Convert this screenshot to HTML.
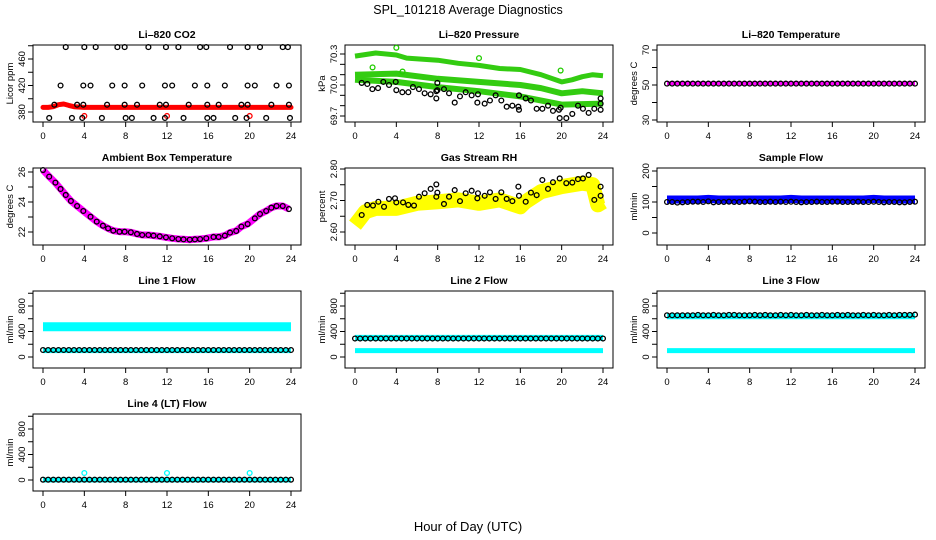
<!DOCTYPE html>
<html><head><meta charset="utf-8"><style>
html,body{margin:0;padding:0;background:#fff}
svg{display:block;font-family:"Liberation Sans",sans-serif}
</style></head><body>
<svg id="chart" width="936" height="540" viewBox="0 0 936 540" xmlns="http://www.w3.org/2000/svg">
<text x="468" y="14" text-anchor="middle" font-size="12.5">SPL_101218  Average Diagnostics</text>
<text x="468" y="531" text-anchor="middle" font-size="13">Hour of Day (UTC)</text>
</svg>
<script>
// ---------- data ----------
const xTickLabels = ["0","4","8","12","16","20","24"];
const halfHours = [0,0.5,1,1.5,2,2.5,3,3.5,4,4.5,5,5.5,6,6.5,7,7.5,8,8.5,9,9.5,10,10.5,11,11.5,12,12.5,13,13.5,14,14.5,15,15.5,16,16.5,17,17.5,18,18.5,19,19.5,20,20.5,21,21.5,22,22.5,23,23.5,24];

// CO2
const co2BlackHours = [2.2,4.0,5.1,7.2,7.9,10.2,11.9,13.1,15.2,15.8,18.1,19.8,21.0,23.2,23.7, 1.7,3.9,4.6,6.7,7.9,9.6,11.8,12.5,14.7,15.9,17.6,19.8,20.5,22.6,23.8, 1.1,3.3,3.9,6.2,7.9,9.1,11.3,11.9,14.1,15.9,17.0,19.2,19.8,22.1,23.8, 0.6,2.8,3.8,5.7,8.0,8.6,10.7,11.8,13.6,15.9,16.5,18.6,19.7,21.6,23.9];
const co2BlackVals = [478,478,478,478,478,478,478,478,478,478,478,478,478,478,478, 420,420,420,420,420,420,420,420,420,420,420,420,420,420,420, 391,391,391,391,391,391,391,391,391,391,391,391,391,391,391, 371,371,371,371,371,371,371,371,371,371,371,371,371,371,371];
const co2RedHours = [0,0.5,1,1.5,2,2.5,3,4,6,8,10,12,14,16,18,20,22,24];
const co2RedVals = [387,387,388,391,392,390,388,387,387,387,387,387,387,387,387,387,387,387];
const co2RedOutHours = [4,12,20];
const co2RedOutVals = [374,374,374];

// Pressure
const presUpperHours = [0,2,4,5,8,10,12,14,16,18,20,21,22,23,24];
const presUpperVals = [70.28,70.31,70.29,70.26,70.24,70.21,70.19,70.16,70.15,70.10,70.03,70.05,70.08,70.10,70.09];
const presMidHours = [0,4,8,12,16,18,20,22,24];
const presMidVals = [70.10,70.11,70.06,70.03,70.00,69.97,69.92,69.94,69.92];
const presLowHours = [0,4,8,12,16,20,24];
const presLowVals = [70.05,70.03,69.98,69.94,69.89,69.81,69.82];
const presOutHours = [4.0,12.0,19.9,1.7,4.6];
const presOutVals = [70.36,70.26,70.14,70.17,70.13];
const presBlackHours = [0.65,1.19,1.68,2.23,2.74,3.29,3.94,4.0,4.58,5.16,5.61,6.19,6.74,7.32,7.87,7.87,7.97,7.97,8.61,9.1,9.65,10.16,10.71,11.29,11.9,11.84,12.55,13.06,13.61,14.16,14.68,15.23,15.81,15.87,15.87,16.52,17.03,17.58,18.13,18.68,19.16,19.74,19.81,19.9,20.45,21.03,21.58,22.06,22.61,23.16,23.77,23.77,23.77];
const presBlackVals = [70.02,70.01,69.96,69.97,70.03,70.00,70.03,69.95,69.93,69.93,69.98,69.96,69.92,69.91,69.94,69.87,70.02,69.95,69.96,69.92,69.83,69.89,69.93,69.90,69.91,69.83,69.82,69.85,69.90,69.85,69.79,69.80,69.79,69.76,69.90,69.87,69.85,69.77,69.77,69.80,69.75,69.76,69.68,69.78,69.68,69.72,69.80,69.77,69.73,69.77,69.76,69.87,69.82];

// Li-820 temperature
const liTempMagenta = [51,51,51,51,51,51,51,51,51,51,51,51,51,51,51,51,51,51,51,51,51,51,51,51,51];
const liTempBlack = [50.8,50.8,50.8,50.8,50.8,50.8,50.8,50.8,50.8,50.8,50.8,50.8,50.8,50.8,50.8,50.8,50.8,50.8,50.8,50.8,50.8,50.8,50.8,50.8,50.8,50.8,50.8,50.8,50.8,50.8,50.8,50.8,50.8,50.8,50.8,50.8,50.8,50.8,50.8,50.8,50.8,50.8,50.8,50.8,50.8,50.8,50.8,50.8,50.8];

// Ambient box temperature
const ambHours = [0,0.6,1.2,1.7,2.2,2.7,3.3,3.9,4.6,5.2,5.8,6.3,6.8,7.4,7.9,8.5,9.1,9.6,10.2,10.7,11.3,11.9,12.5,13.1,13.6,14.2,14.7,15.2,15.8,16.5,17.0,17.6,18.1,18.7,19.2,19.8,20.5,21.0,21.6,22.1,22.6,23.2,23.8];
const ambVals = [26.13,25.69,25.29,24.87,24.47,24.07,23.73,23.40,23.02,22.69,22.42,22.24,22.09,22.02,22.02,21.98,21.87,21.80,21.80,21.76,21.71,21.64,21.58,21.53,21.51,21.49,21.51,21.53,21.58,21.67,21.67,21.76,21.96,22.07,22.36,22.53,22.91,23.20,23.40,23.62,23.73,23.73,23.53];

// Gas stream RH
const rhBandHours = [0,0.5,1,2,4,6,8,10,12,14,16,16.5,18,20,22,23,23.5,24];
const rhBandVals = [2.622,2.643,2.664,2.675,2.675,2.691,2.696,2.702,2.691,2.702,2.680,2.696,2.728,2.744,2.755,2.750,2.686,2.696];
const rhBlackHours = [0.65,1.19,1.74,2.26,2.81,3.29,3.87,4.0,4.65,5.16,5.71,6.19,6.74,7.32,7.87,7.87,7.97,8.61,9.1,9.65,10.16,10.71,11.29,11.84,11.9,12.55,13.06,13.61,14.16,14.68,15.23,15.81,15.87,16.52,17.03,17.58,18.13,18.68,19.16,19.81,20.45,21.03,21.58,22.06,22.61,23.16,23.77,23.77];
const rhBlackVals = [2.654,2.686,2.684,2.696,2.680,2.705,2.707,2.694,2.694,2.686,2.684,2.712,2.723,2.737,2.751,2.712,2.725,2.689,2.712,2.733,2.698,2.723,2.731,2.707,2.723,2.715,2.726,2.705,2.726,2.705,2.698,2.744,2.715,2.696,2.725,2.717,2.765,2.737,2.758,2.770,2.755,2.757,2.768,2.770,2.781,2.702,2.744,2.715];

// Sample flow
const sfBlue = [108,108,108,108,110,108,108,108,108,108,108,108,110,108,108,108,108,108,108,108,110,108,108,108,108];
const sfBlack = [100,100,98,99,100,101,101,100,102,99,100,100,101,100,100,101,102,101,100,100,101,100,101,100,101,100,99,100,100,101,100,100,101,101,100,100,100,101,100,100,101,100,99,100,100,99,99,100,101];

// Line flows
const l1CyanUpper = [475,475,475,475,475,475,475,475,475,475,475,475,475,475,475,475,475,475,475,475,475,475,475,475,475];
const l1CyanLower = [100,100,100,100,100,100,100,100,100,100,100,100,100,100,100,100,100,100,100,100,100,100,100,100,100];
const l1Black = [110,110,110,110,110,110,110,110,110,110,110,110,110,110,110,110,110,110,110,110,110,110,110,110,110,110,110,110,110,110,110,110,110,110,110,110,110,110,110,110,110,110,110,110,110,110,110,110,110];
const l2CyanUpper = [300,300,300,300,300,300,300,300,300,300,300,300,300,300,300,300,300,300,300,300,300,300,300,300,300];
const l2CyanLower = [100,100,100,100,100,100,100,100,100,100,100,100,100,100,100,100,100,100,100,100,100,100,100,100,100];
const l2Black = [290,290,290,290,290,290,290,290,290,290,290,290,290,290,290,290,290,290,290,290,290,290,290,290,290,290,290,290,290,290,290,290,290,290,290,290,290,290,290,290,290,290,290,290,290,290,290,290,290];
const l3CyanUpper = [640,640,640,640,640,640,640,640,640,640,640,640,640,640,640,640,640,640,640,640,640,640,640,640,640];
const l3CyanLower = [100,100,100,100,100,100,100,100,100,100,100,100,100,100,100,100,100,100,100,100,100,100,100,100,100];
const l3Black = [655,655,655,655,655,655,660,655,655,660,655,655,660,660,655,655,655,660,655,660,655,655,660,655,660,655,655,660,655,655,660,655,655,660,655,660,655,655,660,655,660,655,655,660,655,660,660,660,665];
const l4Cyan = [0,0,0,0,0,0,0,0,0,0,0,0,0,0,0,0,0,0,0,0,0,0,0,0,0];
const l4CyanOutHours = [4,12,20];
const l4CyanOutVals = [110,110,110];
const l4Black = [5,5,5,5,5,5,5,5,5,5,5,5,5,5,5,5,5,5,5,5,5,5,5,5,5,5,5,5,5,5,5,5,5,5,5,5,5,5,5,5,5,5,5,5,5,5,5,5,5];
const hourly = [0,1,2,3,4,5,6,7,8,9,10,11,12,13,14,15,16,17,18,19,20,21,22,23,24];

// ---------- drawing ----------
const NS = "http://www.w3.org/2000/svg";
const svg = document.getElementById("chart");
const colX0 = [43,355,667];
const rowTop = [45,168,291,414];
const PXH = 10.333, BOXH = 77;
function mk(tag, attrs, parent){ const e=document.createElementNS(NS,tag); for(const k in attrs) e.setAttribute(k,attrs[k]); (parent||svg).appendChild(e); return e; }

function panel(name, col, row, title, ylab, yref, ticks, tickLabels){
  const g = mk("g",{});
  
  
  const x0 = colX0[col], top = rowTop[row];
  const xs = h => x0 + h*PXH;
  const ys = v => top + yref[1] + (v - yref[0])*(yref[3]-yref[1])/(yref[2]-yref[0]);
  const box = mk("rect",{x:x0-10,y:top,width:268,height:BOXH,fill:"none",stroke:"#000","stroke-width":1},g);
  
  
  const t = mk("text",{x:x0+124,y:top-7,"text-anchor":"middle","font-size":"10.5","font-weight":"bold"},g);
  t.textContent = title;
  
  
  const yl = mk("text",{transform:`translate(${x0-30},${top+BOXH/2}) rotate(-90)`,"text-anchor":"middle","font-size":"9.5"},g);
  yl.textContent = ylab;
  
  
  const ya = mk("g",{},g);
  
  
  mk("line",{x1:x0-10,x2:x0-10,y1:ys(ticks[0]),y2:ys(ticks[ticks.length-1]),stroke:"#000"},ya);
  ticks.forEach((v,i)=>{
    mk("line",{x1:x0-15,x2:x0-10,y1:ys(v),y2:ys(v),stroke:"#000"},ya);
    if(tickLabels[i]){
      const tl = mk("text",{transform:`translate(${x0-18},${ys(v)}) rotate(-90)`,"text-anchor":"middle","font-size":"9.5"},ya);
      tl.textContent = tickLabels[i];
      
      
    }
  });
  const xa = mk("g",{},g);
  
  
  mk("line",{x1:xs(0),x2:xs(24),y1:top+BOXH,y2:top+BOXH,stroke:"#000"},xa);
  xTickLabels.forEach(l=>{
    const h = +l;
    mk("line",{x1:xs(h),x2:xs(h),y1:top+BOXH,y2:top+BOXH+5,stroke:"#000"},xa);
    const tl = mk("text",{x:xs(h),y:top+BOXH+17,"text-anchor":"middle","font-size":"9.5"},xa);
    tl.textContent = l;
    
    
  });
  return {g, xs, ys};
}
function band(p, name, hours, vals, color, w, cap){
  const pts = hours.map((h,i)=>p.xs(h).toFixed(1)+","+p.ys(vals[i]).toFixed(1)).join(" ");
  const pl = mk("polyline",{points:pts,fill:"none",stroke:color,"stroke-width":w,"stroke-linecap":cap||"butt","stroke-linejoin":"round"},p.g);
  
  
}
function pts(p, name, hours, vals, color){
  const g = mk("g",{},p.g);
  
  
  hours.forEach((h,i)=>{
    const c = mk("circle",{cx:p.xs(h),cy:p.ys(vals[i]),r:2.4,fill:"none",stroke:color,"stroke-width":1.3},g);
    
    
  });
}

// CO2
let p = panel("co2",0,0,"Li\u2013820 CO2","Licor ppm",[380,67,460,14],[380,400,420,440,460,480],["380","","420","","460",""]);
band(p,"co2-red-band",co2RedHours,co2RedVals,"#ff0000",5,"round");
pts(p,"co2-red-outliers",co2RedOutHours,co2RedOutVals,"#ff0000");
pts(p,"co2-black-points",co2BlackHours,co2BlackVals,"#000");

// Pressure
p = panel("pressure",1,0,"Li\u2013820 Pressure","kPa",[69.7,71,70.3,9],[69.7,69.8,69.9,70.0,70.1,70.2,70.3],["69.7","","","70.0","","","70.3"]);
band(p,"pressure-green-upper",presUpperHours,presUpperVals,"#33cc11",5);
band(p,"pressure-green-mid",presMidHours,presMidVals,"#33cc11",6);
band(p,"pressure-green-low",presLowHours,presLowVals,"#33cc11",6);
pts(p,"pressure-green-outliers",presOutHours,presOutVals,"#22cc00");
pts(p,"pressure-black-points",presBlackHours,presBlackVals,"#000");

// Li-820 temperature
p = panel("li820-temp",2,0,"Li\u2013820 Temperature","degrees C",[30,75,70,5],[30,40,50,60,70],["30","","50","","70"]);
band(p,"li820-temp-magenta",hourly,liTempMagenta,"#ff00ff",4);
pts(p,"li820-temp-black-points",halfHours,liTempBlack,"#000");

// Ambient
p = panel("ambient-temp",0,1,"Ambient Box Temperature","degrees C",[22,64,26,4],[22,23,24,25,26],["22","","24","","26"]);
band(p,"ambient-temp-magenta",ambHours,ambVals,"#ff00ff",7);
pts(p,"ambient-temp-black-points",ambHours,ambVals,"#000");

// RH
p = panel("gas-rh",1,1,"Gas Stream RH","percent",[2.60,64,2.80,1],[2.60,2.65,2.70,2.75,2.80],["2.60","","2.70","","2.80"]);
band(p,"gas-rh-yellow-band",rhBandHours,rhBandVals,"#ffff00",15);
pts(p,"gas-rh-black-points",rhBlackHours,rhBlackVals,"#000");

// Sample flow
p = panel("sample-flow",2,1,"Sample Flow","ml/min",[0,65,200,3],[0,50,100,150,200],["0","","100","","200"]);
band(p,"sample-flow-blue",hourly,sfBlue,"#0000ff",8);
pts(p,"sample-flow-black-points",halfHours,sfBlack,"#000");

const flowTicks = [0,200,400,600,800,1000], flowLabels = ["0","","400","","800",""];
p = panel("line1-flow",0,2,"Line 1 Flow","ml/min",[0,66,800,15],flowTicks,flowLabels);
band(p,"line1-cyan-upper",hourly,l1CyanUpper,"#00ffff",9);
band(p,"line1-cyan-lower",hourly,l1CyanLower,"#00ffff",5);
pts(p,"line1-black-points",halfHours,l1Black,"#000");

p = panel("line2-flow",1,2,"Line 2 Flow","ml/min",[0,66,800,15],flowTicks,flowLabels);
band(p,"line2-cyan-upper",hourly,l2CyanUpper,"#00ffff",6);
band(p,"line2-cyan-lower",hourly,l2CyanLower,"#00ffff",5);
pts(p,"line2-black-points",halfHours,l2Black,"#000");

p = panel("line3-flow",2,2,"Line 3 Flow","ml/min",[0,66,800,15],flowTicks,flowLabels);
band(p,"line3-cyan-upper",hourly,l3CyanUpper,"#00ffff",6);
band(p,"line3-cyan-lower",hourly,l3CyanLower,"#00ffff",5);
pts(p,"line3-black-points",halfHours,l3Black,"#000");

p = panel("line4-flow",0,3,"Line 4 (LT) Flow","ml/min",[0,66,800,15],flowTicks,flowLabels);
band(p,"line4-cyan",hourly,l4Cyan,"#00ffff",5);
pts(p,"line4-cyan-outliers",l4CyanOutHours,l4CyanOutVals,"#00ffff");
pts(p,"line4-black-points",halfHours,l4Black,"#000");
</script>
</body></html>
